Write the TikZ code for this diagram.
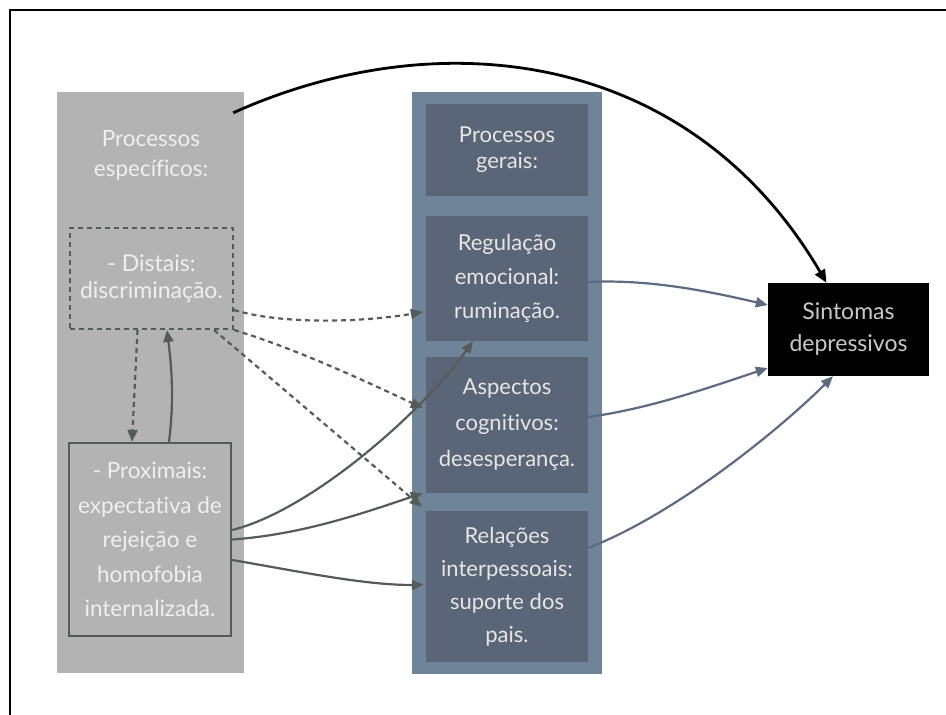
\documentclass[tikz,border=0pt]{standalone}
\usepackage{fontspec}
\setmainfont{Lato}[Ligatures=NoCommon]
\usetikzlibrary{arrows.meta}

\definecolor{panelgray}{HTML}{B3B3B3}
\definecolor{bluepanel}{HTML}{6F8499}
\definecolor{bluebox}{HTML}{5A6577}
\definecolor{darkline}{HTML}{555C58}
\definecolor{bluearrow}{HTML}{5D6B80}
\definecolor{palegray}{HTML}{EFEFEF}
\definecolor{softwhite}{HTML}{E6E6E6}
\definecolor{midgray}{HTML}{C8C8C8}

\begin{document}
\begin{tikzpicture}[x=1pt,y=-1pt,
  panel/.style={rectangle, inner sep=0pt, draw=none},
  txt/.style={align=center, inner sep=0pt},
  sz/.style args={#1/#2}{font=\fontsize{#1}{#2}\selectfont},
  genbox/.style={panel, fill=bluebox, minimum width=162pt, text=softwhite, txt},
  tip/.style={-{Triangle[length=12pt,width=10pt]}},
  darkarrow/.style={tip, line width=2.2pt, draw=darkline},
  dasharrow/.style={darkarrow, dash pattern=on 5pt off 4pt},
  bluearr/.style={tip, line width=2.2pt, draw=bluearrow},
]
\useasboundingbox (0,0) rectangle (946,715);

% page frame (top and left edges)
\draw[line width=1.4pt] (10,715) -- (10,10) -- (946,10);

% left panel: specific processes
\node[panel, fill=panelgray, minimum width=187pt, minimum height=581pt] (spec) at (150.5,382.5) {};
\node[txt, text=palegray, sz=22.5/30] (spectitle) at (151,155) {Processos\\específicos:};
\node[txt, text=palegray, sz=23/27, draw=darkline, line width=2pt, dash pattern=on 5pt off 4pt,
      minimum width=163pt, minimum height=101pt] (dist) at (151.5,278.5) {- Distais:\\discriminação.};
\node[txt, text=palegray, sz=22.5/34.5, draw=darkline, line width=2.4pt,
      minimum width=162pt, minimum height=193pt] (prox) at (150,539.5)
      {- Proximais:\\expectativa de\\rejeição e\\homofobia\\internalizada.};

% middle panel: general processes
\node[panel, fill=bluepanel, minimum width=190pt, minimum height=582pt] (gen) at (507,383) {};
\node[genbox, minimum height=92pt, sz=22/26] (gtitle) at (507,150) {Processos\\gerais:};
\node[genbox, minimum height=125pt, sz=22/34] (reg) at (507,278.5) {Regulação\\emocional:\\ruminação.};
\node[genbox, minimum height=136pt, sz=22/36] (asp) at (507,425) {Aspectos\\cognitivos:\\desesperança.};
\node[genbox, minimum height=151pt, sz=22/33] (rel) at (507,586.5) {Relações\\interpessoais:\\suporte dos\\pais.};

% outcome
\node[panel, fill=black, minimum width=161pt, minimum height=93pt, txt, text=midgray, sz=23/32]
      (sint) at (848.5,329.5) {Sintomas\\depressivos};

% direct path over the top
\draw[-{Triangle[length=13pt,width=11pt]}, line width=2.8pt, draw=black]
  ([xshift=-11pt,yshift=-21pt]spec.north east) .. controls +(207,-93) and +(-136.5,-233) .. ([xshift=-22pt]sint.north);

% distal <-> proximal
\draw[dasharrow] ([xshift=-14pt]dist.south) -- ([xshift=-18pt]prox.north);
\draw[darkarrow] ([xshift=19pt]prox.north) .. controls +(5,-40) and +(5,40) .. ([xshift=15.5pt]dist.south);

% distal -> general processes
\draw[dasharrow] ([yshift=-31.5pt]dist.east) .. controls +(50,15) and +(-60,10) .. ([xshift=-3pt,yshift=-33.5pt]reg.west);
\draw[dasharrow] (dist.south east) .. controls +(60,18) and +(-60,-28) .. ([xshift=-3pt,yshift=17pt]asp.west);
\draw[dasharrow] ([xshift=-20pt]dist.south east) -- ([xshift=-4pt,yshift=4pt]rel.north west);

% proximal -> general processes
\draw[darkarrow] ([yshift=9.5pt]prox.east) .. controls +(80,-20) and +(-50,70) .. ([xshift=-34pt]reg.south);
\draw[darkarrow] (prox.east) .. controls +(70,-5) and +(-60,20) .. ([xshift=-3pt]asp.south west);
\draw[darkarrow] ([yshift=-20.5pt]prox.east) .. controls +(70,12) and +(-60,0) .. ([xshift=-2pt,yshift=1.5pt]rel.west);

% general processes -> symptoms
\draw[bluearr] ([yshift=-3.5pt]reg.east) .. controls +(60,-3) and +(-60,-14) .. ([yshift=24.5pt]sint.west);
\draw[bluearr] ([yshift=8pt]asp.east) .. controls +(60,-8) and +(-60,20) .. ([yshift=-38.5pt]sint.west);
\draw[bluearr] ([yshift=38.5pt]rel.east) .. controls +(90,-35) and +(-50,50) .. ([xshift=-15.5pt]sint.south);
\end{tikzpicture}
\end{document}
